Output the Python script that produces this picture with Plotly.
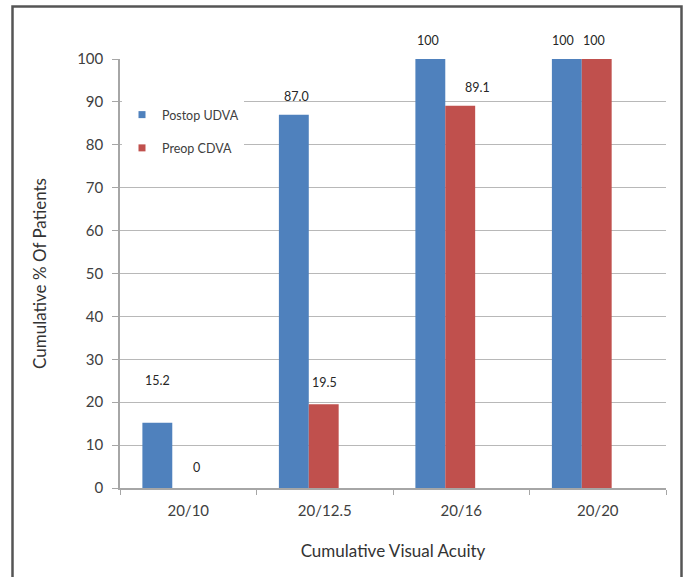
import plotly.graph_objects as go

categories = ["20/10", "20/12.5", "20/16", "20/20"]
postop_udva = [15.2, 87.0, 100, 100]
preop_cdva = [0, 19.5, 89.1, 100]
postop_labels = ["15.2", "87.0", "100", "100"]
preop_labels = ["0", "19.5", "89.1", "100"]

W, H = 687, 577
ML, MR, MT, MB = 120, 21, 59, 89
PW, PH = W - ML - MR, H - MT - MB

BLUE = "#4F81BD"
RED = "#C0504D"
FONT = "Lato, 'Open Sans', sans-serif"

# bar geometry in category units
BW = 0.219
OFF_BLUE = -0.336
OFF_RED = -0.117

# per-label vertical offset (px above bar top) and horizontal nudge (px)
post_yshift = [42, 18, 19, 19]
post_xshift = [0, 3, -2, -4]
pre_yshift = [21, 22, 18, 19]
pre_xshift = [9, 1, 17, -3]


def px(x):
    return (x - ML) / PW


def py(y):
    return 1 - (y - MT) / PH


fig = go.Figure()
fig.add_trace(go.Bar(x=categories, y=postop_udva, name="Postop UDVA",
                     marker=dict(color=BLUE, line=dict(width=0)),
                     offset=OFF_BLUE, width=BW, showlegend=False))
fig.add_trace(go.Bar(x=categories, y=preop_cdva, name="Preop CDVA",
                     marker=dict(color=RED, line=dict(width=0)),
                     offset=OFF_RED, width=BW, showlegend=False))
# legend entries with small square symbols
fig.add_trace(go.Scatter(x=[None], y=[None], mode="markers", name="Postop UDVA",
                         marker=dict(symbol="square", size=7, color=BLUE),
                         legendgroup="a"))
fig.add_trace(go.Scatter(x=[None], y=[None], mode="markers", name="Preop CDVA",
                         marker=dict(symbol="square", size=7, color=RED),
                         legendgroup="b"))

annotations = []
for i, (v, t) in enumerate(zip(postop_udva, postop_labels)):
    annotations.append(dict(x=i + OFF_BLUE + BW / 2, y=v, text=t, showarrow=False,
                            xref="x", yref="y", yanchor="middle",
                            yshift=post_yshift[i], xshift=post_xshift[i],
                            font=dict(size=12.5, color="#262626", family=FONT)))
for i, (v, t) in enumerate(zip(preop_cdva, preop_labels)):
    annotations.append(dict(x=i + OFF_RED + BW / 2, y=v, text=t, showarrow=False,
                            xref="x", yref="y", yanchor="middle",
                            yshift=pre_yshift[i], xshift=pre_xshift[i],
                            font=dict(size=12.5, color="#262626", family=FONT)))

fig.update_layout(
    width=W, height=H,
    margin=dict(l=ML, r=MR, t=MT, b=MB),
    paper_bgcolor="white", plot_bgcolor="white",
    font=dict(family=FONT, color="#404040"),
    barmode="overlay",
    annotations=annotations,
    legend=dict(x=px(122), y=py(100), xanchor="left", yanchor="top",
                bgcolor="white", borderwidth=0,
                font=dict(size=12.5, color="#404040", family=FONT),
                itemwidth=30, traceorder="grouped", tracegroupgap=14),
    shapes=[dict(type="rect", xref="paper", yref="paper",
                 x0=px(12.5), x1=px(681.5), y0=py(590), y1=py(6.5),
                 line=dict(color="#555555", width=2.5), layer="above")],
)

fig.update_xaxes(
    type="category", range=[-0.5, 3.5],
    showline=True, linecolor="#a6a6a6", linewidth=1.5,
    ticks="outside", tickson="boundaries", ticklen=5, tickcolor="#a6a6a6",
    ticklabelstandoff=8,
    tickfont=dict(size=15, color="#404040", family=FONT),
    showgrid=False,
    title=dict(text="Cumulative Visual Acuity", standoff=27,
               font=dict(size=17, color="#333333", family=FONT)),
)
fig.update_yaxes(
    range=[0, 100], dtick=10, tick0=0,
    showline=True, linecolor="#a6a6a6", linewidth=1.5,
    ticks="outside", ticklen=6, tickcolor="#a6a6a6",
    ticklabelstandoff=6,
    tickfont=dict(size=15, color="#404040", family=FONT),
    showgrid=True, gridcolor="#b8b8b8", gridwidth=1,
    zeroline=False,
    title=dict(text="Cumulative % Of Patients", standoff=26,
               font=dict(size=17, color="#333333", family=FONT)),
)

fig.write_html("out.html")
